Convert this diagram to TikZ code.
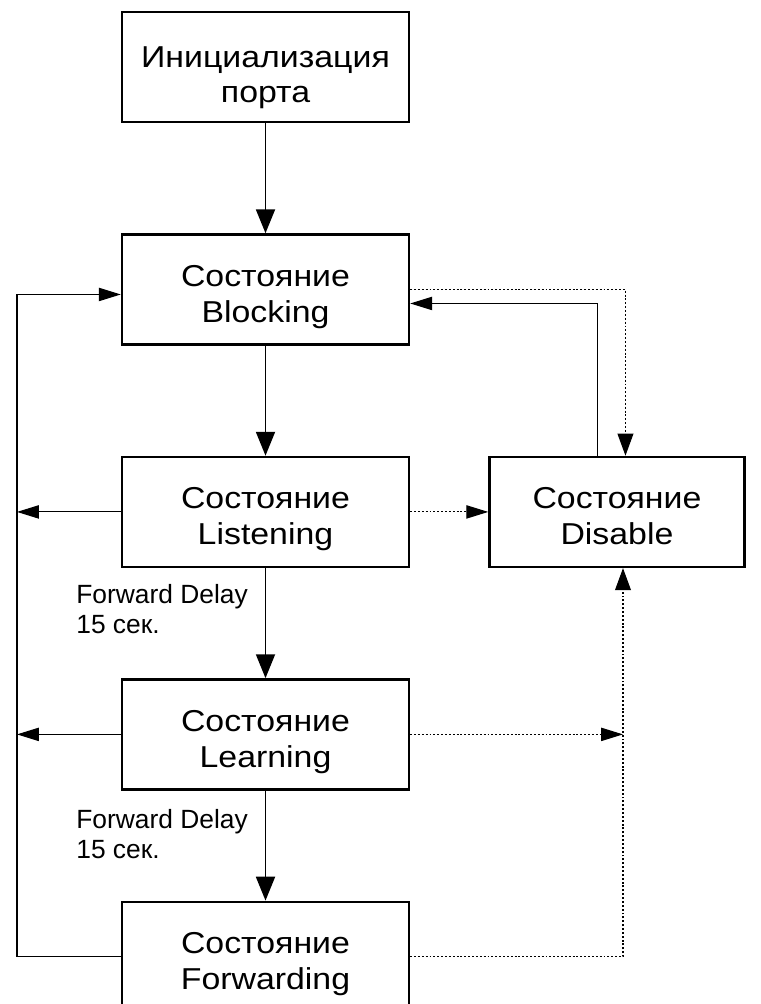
\documentclass[tikz,border=0pt]{standalone}
\usepackage{fontspec}
\setmainfont{Liberation Sans}
\newfontfamily\boxfont{Liberation Sans}[FakeStretch=1.12]
\usetikzlibrary{arrows.meta,calc,positioning}
\newcommand{\sost}[3][21pt]{\rule{0pt}{#1}#2\\#3\rule[-4pt]{0pt}{0pt}}
\tikzset{
  sostoyanie/.style={
    draw,
    line width=1.4pt,
    align=center,
    minimum width=5.74cm,
    minimum height=2.2cm,
    inner sep=0pt,
    font=\boxfont\fontsize{17.2}{20.4}\selectfont
  },
  delay/.style={
    align=left,
    inner sep=0pt,
    anchor=north west,
    font=\fontsize{15}{17}\selectfont
  },
  arrow/.style={
    -{Triangle[length=13.6pt,width=10.8pt]},
    line width=1.1pt
  },
  side/.style={
    -{Triangle[length=12.5pt,width=7.6pt]},
    line width=0.6pt
  },
  vtip/.style={
    -{Triangle[length=12.5pt,width=9pt]},
    line width=0.6pt
  },
  dots/.style={
    dash pattern=on 1.1pt off 1.1pt
  }
}
\begin{document}
\begin{tikzpicture}[node distance=2.2cm]
\useasboundingbox (0,0) rectangle (15.22,-20.08);
\node[sostoyanie] (init) at (5.31,-1.34) {\sost[24.4pt]{Инициализация}{порта}};
\node[sostoyanie,below=of init] (blocking) {\sost{Состояние}{Blocking}};
\node[sostoyanie,below=of blocking] (listening) {\sost{Состояние}{Listening}};
\node[sostoyanie,right=1.56cm of listening,minimum width=5.1cm] (disable) {\sost{Состояние}{Disable}};
\node[sostoyanie,below=of listening] (learning) {\sost{Состояние}{Learning}};
\node[sostoyanie,below=of learning] (forwarding) {\sost{Состояние}{Forwarding}};
\node[delay] (delay1) at (1.52,-11.68) {Forward Delay\\15 сек.};
\node[delay] (delay2) at (1.52,-16.18) {Forward Delay\\15 сек.};
\coordinate (loop) at (0.34,0);
\coordinate (dotx) at (12.46,0);
% main chain
\draw[arrow] (init) -- (blocking);
\draw[arrow] (blocking) -- (listening);
\draw[arrow] (listening) -- (learning);
\draw[arrow] (learning) -- (forwarding);
% back to blocking
\draw[side] (forwarding.west) -- (forwarding.west -| loop) |- ([yshift=-0.1cm]blocking.west);
\draw[side] (listening.west) -- (listening.west -| loop);
\draw[side] (learning.west) -- (learning.west -| loop);
% disable
\draw[vtip,dots] (blocking.east) -| ([xshift=0.17cm]disable.north);
\draw[side] ([xshift=-0.39cm]disable.north) |- ([yshift=-0.28cm]blocking.east);
\draw[side,dots] (listening) -- (disable);
\draw[side,dots] (learning.east) -- (learning.east -| dotx);
\draw[vtip,dots] (forwarding.east) -| (dotx |- disable.south);
\end{tikzpicture}
\end{document}
